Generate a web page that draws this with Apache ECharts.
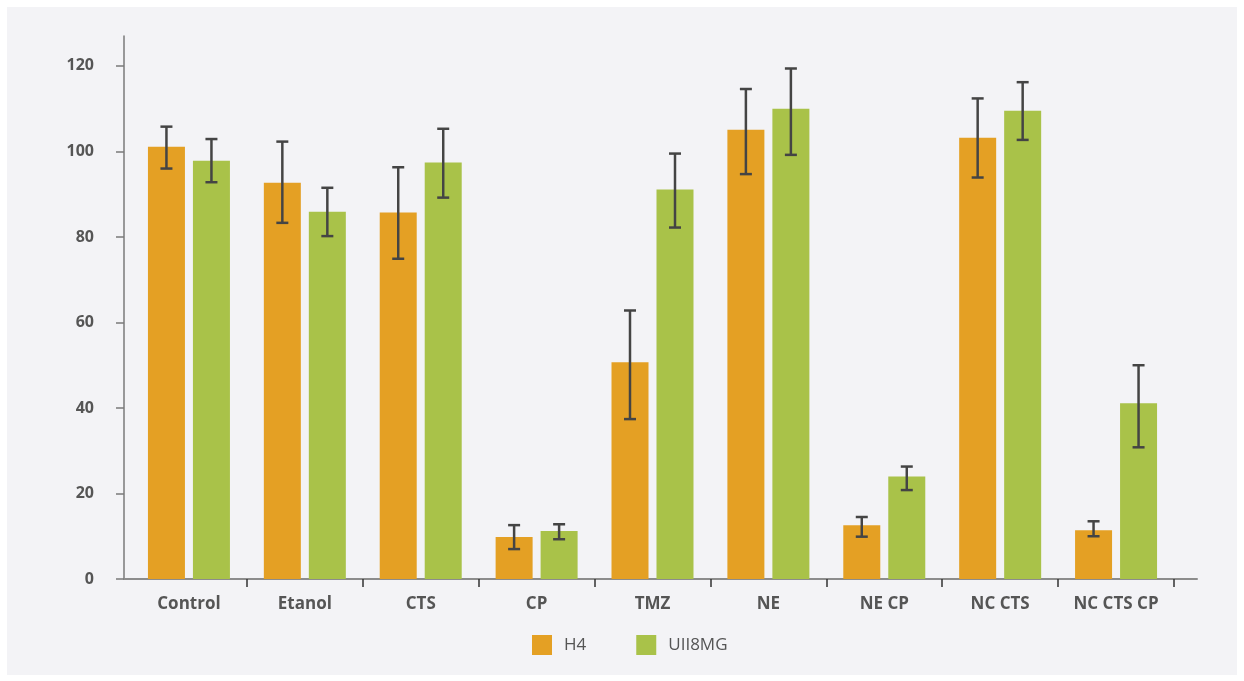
<!DOCTYPE html>
<html>
<head>
<meta charset="utf-8">
<script src="https://cdn.jsdelivr.net/npm/echarts@6/dist/echarts.min.js"></script>
<style>
  html, body { margin: 0; padding: 0; background: #ffffff; }
  #panel { position: absolute; left: 7px; top: 7px; width: 1230px; height: 668px; background: #f3f3f6; }
  #chart { position: absolute; left: 0; top: 0; width: 1244px; height: 681px; }
</style>
</head>
<body>
<div id="panel"></div>
<div id="chart"></div>
<script>
// datos
const categories = ["Control", "Etanol", "CTS", "CP", "TMZ", "NE", "NE CP", "NC CTS", "NC CTS CP"];
const h4 = [101.1, 92.7, 85.7, 9.8, 50.7, 105.1, 12.6, 103.2, 11.4];
const h4Low = [96.0, 83.3, 74.9, 7.0, 37.4, 94.7, 9.9, 93.9, 10.0];
const h4High = [105.8, 102.3, 96.3, 12.6, 62.8, 114.6, 14.5, 112.4, 13.5];
const uii8mg = [97.8, 85.9, 97.4, 11.2, 91.1, 110.0, 24.0, 109.5, 41.1];
const uii8mgLow = [92.8, 80.2, 89.2, 9.3, 82.2, 99.2, 20.8, 102.7, 30.8];
const uii8mgHigh = [102.9, 91.5, 105.3, 12.8, 99.5, 119.4, 26.3, 116.2, 50.0];
const yTicks = [0, 20, 40, 60, 80, 100, 120];

const font = "'Open Sans', 'Noto Sans', sans-serif";

function errData(low, high) {
  return low.map((v, i) => [i, v, high[i]]);
}

function errorBar(offset) {
  return function (params, api) {
    const i = api.value(0);
    const top = api.coord([i, api.value(2)]);
    const bot = api.coord([i, api.value(1)]);
    const x = top[0] + offset;
    const half = 6;
    const style = { stroke: "#444444", lineWidth: 2.5 };
    return {
      type: "group",
      children: [
        { type: "line", shape: { x1: x, y1: top[1], x2: x, y2: bot[1] }, style: style },
        { type: "line", shape: { x1: x - half, y1: top[1], x2: x + half, y2: top[1] }, style: style },
        { type: "line", shape: { x1: x - half, y1: bot[1], x2: x + half, y2: bot[1] }, style: style },
      ],
    };
  };
}

const chart = echarts.init(document.getElementById("chart"));
chart.setOption({
  animation: false,
  textStyle: { fontFamily: font },
  legend: {
    left: 532,
    top: 635,
    padding: 0,
    icon: "rect",
    itemWidth: 20,
    itemHeight: 20,
    itemGap: 50,
    data: ["H4", "UII8MG"],
    textStyle: { color: "#555555", fontSize: 17, fontFamily: font, padding: [0, 0, 0, 7] },
  },
  grid: [
    // ejes
    { left: 124, right: 47, top: 36, bottom: 102 },
    // barras
    { left: 131, right: 70, top: 36, bottom: 102 },
  ],
  xAxis: [
    {
      gridIndex: 0,
      type: "value",
      min: 0,
      max: 1,
      axisLine: { show: true, lineStyle: { color: "#8c8c8c", width: 2 } },
      axisTick: { show: false },
      axisLabel: { show: false },
      splitLine: { show: false },
    },
    {
      gridIndex: 1,
      type: "category",
      data: categories,
      axisLine: { show: false },
      axisTick: {
        show: true,
        length: 8,
        interval: function (i) { return i > 0; },
        lineStyle: { color: "#333333", width: 1.5 },
      },
      axisLabel: { color: "#555555", fontSize: 17, fontWeight: "bold", margin: 17, fontFamily: font },
    },
  ],
  yAxis: [
    {
      gridIndex: 0,
      type: "value",
      min: 0,
      max: 127,
      axisLine: { show: true, lineStyle: { color: "#7a7a7a", width: 1.5 } },
      axisTick: { show: true, length: 8, customValues: yTicks, lineStyle: { color: "#7a7a7a", width: 1.5 } },
      axisLabel: { customValues: yTicks, color: "#555555", fontSize: 16, fontWeight: "bold", margin: 30, fontFamily: font },
      splitLine: { show: false },
    },
    {
      gridIndex: 1,
      type: "value",
      min: 0,
      max: 127,
      show: false,
      splitLine: { show: false },
    },
  ],
  series: [
    {
      name: "H4",
      type: "bar",
      xAxisIndex: 1,
      yAxisIndex: 1,
      barWidth: 37,
      barGap: "21.6%",
      itemStyle: { color: "#e4a024" },
      data: h4,
    },
    {
      name: "UII8MG",
      type: "bar",
      xAxisIndex: 1,
      yAxisIndex: 1,
      barWidth: 37,
      barGap: "21.6%",
      itemStyle: { color: "#a9c249" },
      data: uii8mg,
    },
    {
      type: "custom",
      xAxisIndex: 1,
      yAxisIndex: 1,
      z: 5,
      silent: true,
      renderItem: errorBar(-22.5),
      data: errData(h4Low, h4High),
    },
    {
      type: "custom",
      xAxisIndex: 1,
      yAxisIndex: 1,
      z: 5,
      silent: true,
      renderItem: errorBar(22.5),
      data: errData(uii8mgLow, uii8mgHigh),
    },
  ],
});
</script>
</body>
</html>
